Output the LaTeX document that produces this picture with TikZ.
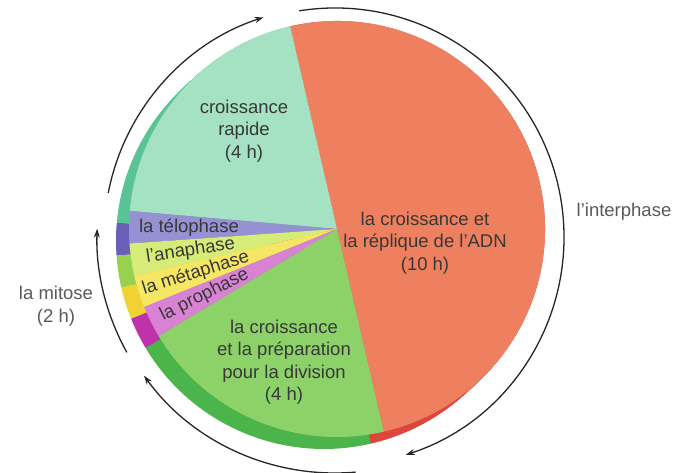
\documentclass[tikz,border=0pt]{standalone}
\usepackage{fontspec}
\setmainfont{Liberation Sans}
\usepackage{tikz}
\usetikzlibrary{arrows.meta,calc}
\usepackage{xcolor}

\definecolor{adn}{RGB}{238,128,95}
\definecolor{adnS}{RGB}{220,70,60}
\definecolor{rap}{RGB}{165,225,195}
\definecolor{rapS}{RGB}{90,195,150}
\definecolor{telo}{RGB}{150,145,210}
\definecolor{teloS}{RGB}{105,95,185}
\definecolor{ana}{RGB}{215,235,120}
\definecolor{anaS}{RGB}{150,210,80}
\definecolor{meta}{RGB}{245,230,100}
\definecolor{metaS}{RGB}{240,210,50}
\definecolor{pro}{RGB}{215,130,210}
\definecolor{proS}{RGB}{190,50,170}
\definecolor{div}{RGB}{140,210,105}
\definecolor{divS}{RGB}{75,180,75}

\begin{document}
\begin{tikzpicture}[x=1pt,y=1pt,>={Stealth[length=9pt,width=6pt]},
  every node/.style={font=\fontsize{18.5}{22.5}\selectfont,text=black!78,align=center,inner sep=0pt},
  outer/.style={text=black!65},
  cyclearrow/.style={->,line width=1.3pt,black!85}]
\useasboundingbox (0,0) rectangle (693,472);
\coordinate (c) at (337,243);
\coordinate (o) at (335,235);

% side of the pie
\foreach \s in {0,...,13}
  \foreach \a/\b/\col in {-77/103/adnS,103/175/rapS,175/184/teloS,184/193/anaS,193/202/metaS,202/211/proS,211/283/divS}
    \fill[\col] ($(c)+({-\s},{-0.92*\s})$) -- ++(\a:208) arc[start angle=\a,end angle=\b,radius=208] -- cycle;

% top of the pie
\foreach \a/\b/\col in {-77/103/adn,103/175/rap,175/184/telo,184/193/ana,193/202/meta,202/211/pro,211/283/div}
  \fill[\col] (c) -- ++(\a:208) arc[start angle=\a,end angle=\b,radius=208] -- cycle;

\node (rapide) at (244,341) {croissance\\rapide\\(4 h)};
\node (adnlbl) at (425,229) {la croissance et\\la réplique de l'ADN\\(10 h)};
\node (division) at (284,110) {la croissance\\et la préparation\\pour la division\\(4 h)};

\node[rotate=-0.5] (telophase) at ($(c)+(179.5:148)$) {la télophase};
\node[rotate=8.5] (anaphase) at ($(c)+(188.5:148)$) {l'anaphase};
\node[rotate=17.5] (metaphase) at ($(c)+(197.5:148)$) {la métaphase};
\node[rotate=26.5] (prophase) at ($(c)+(206.5:148)$) {la prophase};

\node[outer] (interphase) at (624,260) {l'interphase};
\node[outer] (mitose) at (56,166) {la mitose\\(2 h)};

% the cycle
\draw[cyclearrow] ($(o)+(169:231)$) arc[start angle=169,end angle=108,radius=231];
\draw[cyclearrow] ($(o)+(99:229)$) arc[start angle=99,end angle=-72,radius=229];
\draw[cyclearrow] ($(o)+(-85:236)$) arc[start angle=-85,end angle=-144,radius=236];
\draw[cyclearrow] ($(o)+(209:238)$) arc[start angle=209,end angle=178,radius=238];
\end{tikzpicture}
\end{document}
